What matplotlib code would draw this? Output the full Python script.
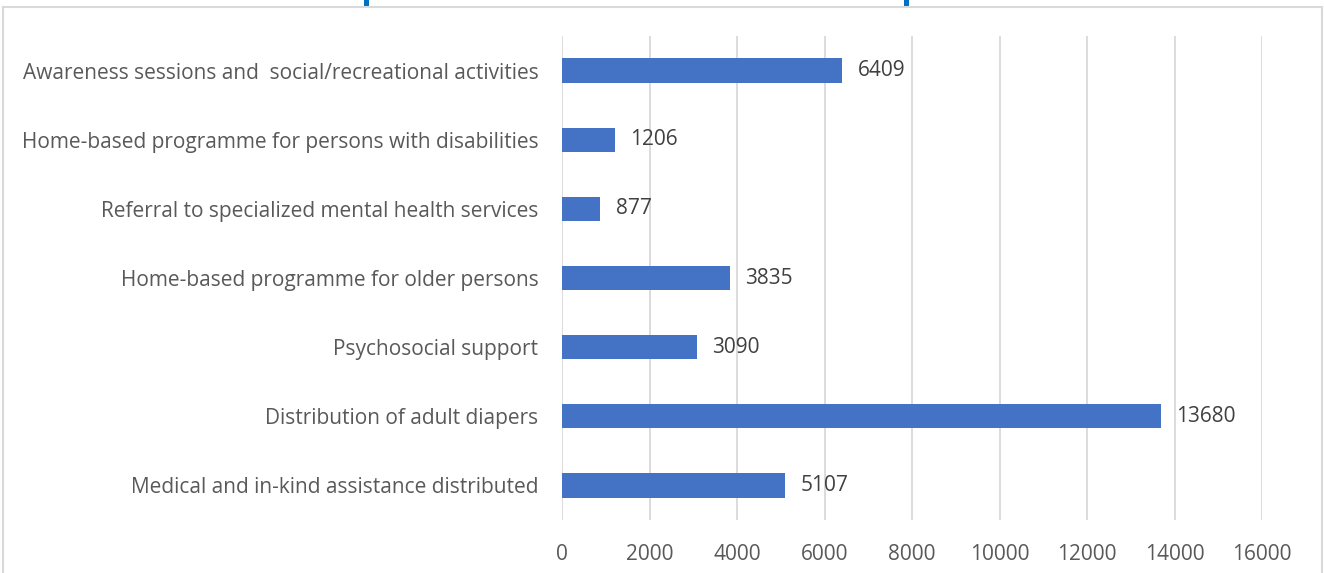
import matplotlib.pyplot as plt
from matplotlib.patches import Rectangle
from matplotlib.lines import Line2D

categories = ['Medical and in-kind assistance distributed',
              'Distribution of adult diapers',
              'Psychosocial support',
              'Home-based programme for older persons',
              'Referral to specialized mental health services',
              'Home-based programme for persons with disabilities',
              'Awareness sessions and  social/recreational activities']
values = [5107, 13680, 3090, 3835, 877, 1206, 6409]
xticks = [0, 2000, 4000, 6000, 8000, 10000, 12000, 14000, 16000]

W, H = 1324, 573
fig = plt.figure(figsize=(W / 100, H / 100), dpi=100)
plt.rcParams['font.family'] = ['Open Sans', 'DejaVu Sans']

# outer frame (cut at the bottom) and the two blue marks at the top
fig.add_artist(Line2D([3 / W, 3 / W], [0, 1 - 7 / H], color='#d9d9d9', lw=1.5))
fig.add_artist(Line2D([1322 / W, 1322 / W], [0, 1 - 7 / H], color='#d9d9d9', lw=1.5))
fig.add_artist(Line2D([3 / W, 1322 / W], [1 - 7 / H, 1 - 7 / H], color='#d9d9d9', lw=1.5))
for xm in [366.5, 906.5]:
    fig.add_artist(Rectangle((xm / W - 2.5 / W, 1 - 8 / H), 5 / W, 8 / H,
                             color='#0070c0', lw=0))

ax = fig.add_axes([562 / W, 1 - 520 / H, 700 / W, 484 / H])
ax.barh(range(len(values)), values, height=0.35, color='#4472C4', zorder=3)
ax.set_xlim(0, 16000)
ax.set_ylim(-0.5, len(values) - 0.5)
ax.set_xticks(xticks)
ax.set_xticklabels([str(t) for t in xticks])
ax.set_yticks(range(len(categories)))
ax.set_yticklabels(categories)
ax.tick_params(axis='both', length=0, colors='#595959')
ax.tick_params(axis='x', pad=17, labelsize=15)
ax.tick_params(axis='y', pad=17, labelsize=15)
ax.grid(axis='x', color='#d9d9d9', lw=1.3, zorder=0)
for s in ax.spines.values():
    s.set_visible(False)

for i, v in enumerate(values):
    ax.annotate(str(v), (v, i), xytext=(11, 0), textcoords='offset points',
                va='center', ha='left', fontsize=15, color='#404040')

fig.savefig('out.png', dpi=100)
